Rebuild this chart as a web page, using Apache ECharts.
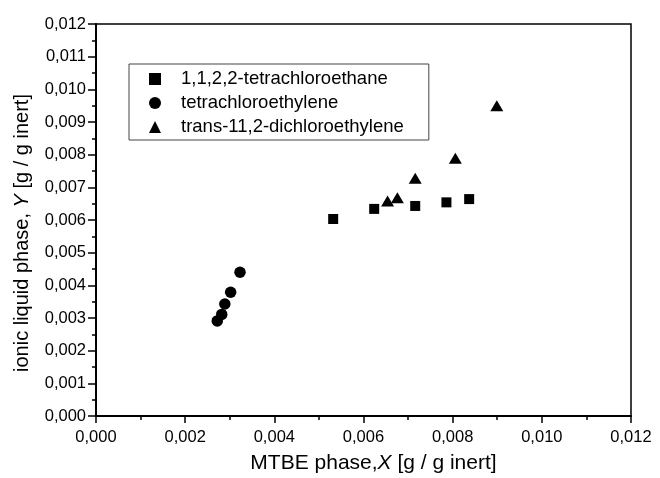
<!DOCTYPE html>
<html>
<head>
<meta charset="utf-8">
<script src="https://cdn.jsdelivr.net/npm/echarts@6/dist/echarts.min.js"></script>
<style>html,body{margin:0;padding:0;background:#fff}#c{width:660px;height:478px}</style>
</head>
<body>
<div id="c"></div>
<script>
const seriesNames = ['1,1,2,2-tetrachloroethane', 'tetrachloroethylene', 'trans-11,2-dichloroethylene'];
const tetrachloroethaneX = [0.00532, 0.00624, 0.00716, 0.00786, 0.00837];
const tetrachloroethaneY = [0.00603, 0.00634, 0.00643, 0.00654, 0.00664];
const tetrachloroethyleneX = [0.00272, 0.00282, 0.00289, 0.00302, 0.00323];
const tetrachloroethyleneY = [0.00291, 0.00311, 0.00343, 0.00379, 0.00440];
const dichloroethyleneX = [0.00654, 0.00676, 0.00716, 0.00806, 0.00899];
const dichloroethyleneY = [0.00658, 0.00668, 0.00728, 0.00789, 0.00950];
const xTitle = 'MTBE phase,{i|X} [g / g inert]';
const yTitle = 'ionic liquid phase, {i|Y} [g / g inert]';

const FONT = '"Liberation Sans", Arial, sans-serif';
const zip = (xs, ys) => xs.map((x, i) => [x, ys[i]]);
const fmt = v => v.toFixed(3).replace('.', ',');

const chart = echarts.init(document.getElementById('c'), null, {renderer: 'canvas'});
chart.setOption({
  animation: false,
  backgroundColor: '#fff',
  textStyle: {fontFamily: FONT},
  grid: {left: 96, right: 29, top: 24, bottom: 62, show: true, borderColor: '#000', borderWidth: 1.5,
         containLabel: false, outerBoundsMode: 'none'},
  legend: {
    orient: 'vertical',
    left: 129, top: 64,
    padding: [5, 25, 3, 20],
    borderColor: '#444', borderWidth: 1,
    itemWidth: 12, itemHeight: 12, itemGap: 4,
    textStyle: {fontFamily: FONT, fontSize: 18.5, color: '#000', lineHeight: 20, padding: [0, 0, 0, 15]},
    data: [
      {name: seriesNames[0], icon: 'rect'},
      {name: seriesNames[1], icon: 'circle'},
      {name: seriesNames[2], icon: 'triangle'}
    ]
  },
  xAxis: {
    type: 'value', min: 0, max: 0.012, interval: 0.002,
    name: xTitle, nameLocation: 'middle', nameGap: 37, nameMoveOverlap: false,
    nameTextStyle: {fontFamily: FONT, fontSize: 21, color: '#000', padding: [0, 0, 0, 20],
      rich: {i: {fontFamily: FONT, fontSize: 21, fontStyle: 'italic', color: '#000'}}},
    axisLine: {show: true, onZero: false, lineStyle: {color: '#000', width: 2}},
    axisTick: {show: true, length: 7, lineStyle: {color: '#000', width: 1.5}},
    minorTick: {show: true, splitNumber: 2, length: 4, lineStyle: {color: '#000', width: 1.5}},
    splitLine: {show: false},
    axisLabel: {fontFamily: FONT, fontSize: 16.5, color: '#000', margin: 13, formatter: fmt}
  },
  yAxis: {
    type: 'value', min: 0, max: 0.012, interval: 0.001,
    name: yTitle, nameLocation: 'middle', nameGap: 64,
    nameTextStyle: {fontFamily: FONT, fontSize: 20, color: '#000', padding: [0, 26, 0, 0],
      rich: {i: {fontFamily: FONT, fontSize: 20, fontStyle: 'italic', color: '#000'}}},
    axisLine: {show: true, onZero: false, lineStyle: {color: '#000', width: 2}},
    axisTick: {show: true, length: 8, lineStyle: {color: '#000', width: 1.5}},
    minorTick: {show: true, splitNumber: 2, length: 4, lineStyle: {color: '#000', width: 1.5}},
    splitLine: {show: false},
    axisLabel: {fontFamily: FONT, fontSize: 16.5, color: '#000', margin: 10, formatter: fmt}
  },
  series: [
    {name: seriesNames[0], type: 'scatter', symbol: 'rect', symbolSize: 10,
     itemStyle: {color: '#000', opacity: 1}, data: zip(tetrachloroethaneX, tetrachloroethaneY)},
    {name: seriesNames[1], type: 'scatter', symbol: 'circle', symbolSize: 11.5,
     itemStyle: {color: '#000', opacity: 1}, data: zip(tetrachloroethyleneX, tetrachloroethyleneY)},
    {name: seriesNames[2], type: 'scatter', symbol: 'triangle', symbolSize: [13, 11],
     itemStyle: {color: '#000', opacity: 1}, data: zip(dichloroethyleneX, dichloroethyleneY)}
  ]
});
</script>
</body>
</html>
